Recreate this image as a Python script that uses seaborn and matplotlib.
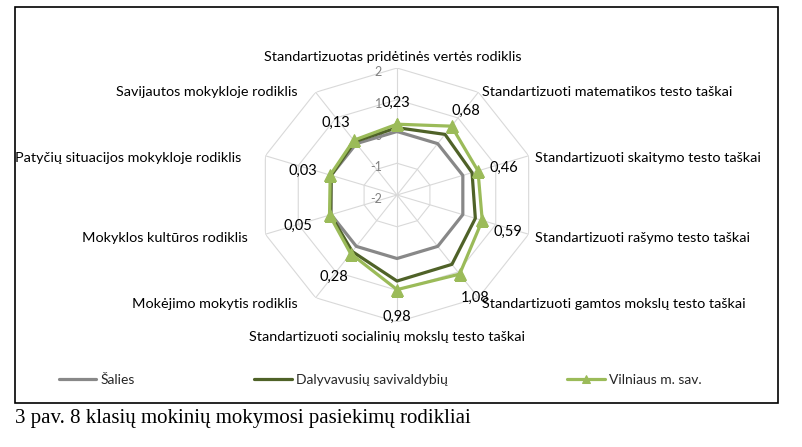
import numpy as np
import pandas as pd
import seaborn as sns
import matplotlib.pyplot as plt
from matplotlib.patches import Rectangle

# chart values
categories = [
    "Standartizuotas pridėtinės vertės rodiklis",
    "Standartizuoti matematikos testo taškai",
    "Standartizuoti skaitymo testo taškai",
    "Standartizuoti rašymo testo taškai",
    "Standartizuoti gamtos mokslų testo taškai",
    "Standartizuoti socialinių mokslų testo taškai",
    "Mokėjimo mokytis rodiklis",
    "Mokyklos kultūros rodiklis",
    "Patyčių situacijos mokykloje rodiklis",
    "Savijautos mokykloje rodiklis",
]
salies = [0, 0, 0, 0, 0, 0, 0, 0, 0, 0]
dalyvavusiu = [0.12, 0.36, 0.28, 0.38, 0.70, 0.71, 0.20, 0.02, 0.00, 0.08]
vilniaus = [0.23, 0.68, 0.46, 0.59, 1.08, 0.98, 0.28, 0.05, 0.03, 0.13]
series_names = ["Šalies", "Dalyvavusių savivaldybių", "Vilniaus m. sav."]
r_ticks = [2, 1, 0, -1, -2]
caption = "3 pav. 8 klasių mokinių mokymosi pasiekimų rodikliai"

sns.set_theme(style="white")
plt.rcParams['font.family'] = ['Lato', 'DejaVu Sans']

W, H = 803, 447
fig = plt.figure(figsize=(W / 100, H / 100), dpi=100)

# centre (397,195) px, radius 127 px, slightly wider than tall as in the source
cx, cy, rad, xstretch = 397, 195, 127, 1.09
ax = fig.add_axes([(cx - rad * xstretch) / W, (H - cy - rad) / H,
                   2 * rad * xstretch / W, 2 * rad / H], projection='polar')
ax.set_theta_zero_location('N')
ax.set_theta_direction(-1)

n = len(categories)
theta = np.linspace(0, 2 * np.pi, n, endpoint=False)
theta_c = np.append(theta, theta[0])

# decagon grid
grid_col = '#d9d9d9'
for lev in [-1, 0, 1, 2]:
    ax.plot(theta_c, [lev] * (n + 1), color=grid_col, lw=0.8, zorder=1)
for t in theta:
    ax.plot([t, t], [-2, 2], color=grid_col, lw=0.8, zorder=1)

# radial tick labels left of the top spoke
for v in r_ticks:
    ax.annotate(str(v), xy=(0, v), xytext=(-15, -4), textcoords='offset pixels',
                ha='right', va='center', fontsize=9, color='#808080', zorder=1.5)

styles = [
    (salies, '#888888', None, 2),
    (dalyvavusiu, '#4f6228', None, 3),
    (vilniaus, '#9bbb59', '^', 4),
]
for name, (vals, col, mk, z) in zip(series_names, styles):
    df = pd.DataFrame({'theta': theta_c, 'r': list(vals) + [vals[0]]})
    sns.lineplot(data=df, x='theta', y='r', ax=ax, sort=False, estimator=None,
                 color=col, lw=2.3, marker=mk, markersize=8 if mk else 0,
                 markeredgecolor=col, label=name, zorder=z)

ax.set_ylim(-2, 2)
ax.set_xticks([])
ax.set_yticks([])
ax.set_xlabel('')
ax.set_ylabel('')
ax.grid(False)
ax.spines['polar'].set_visible(False)
ax.set_facecolor('none')
ax.set_aspect('auto')

# category labels around the outer ring (pixel offsets from outer vertex)
label_pos = [((-4, 11), 'center'), ((4, 0), 'left'), ((6, -2), 'left'),
             ((6, -3.5), 'left'), ((4, -6), 'left'), ((-10, -15), 'center'),
             ((-18, -6), 'right'), ((-18, -3.5), 'right'), ((-24, -2), 'right'),
             ((-18, 0), 'right')]
for t, lab, (off, ha) in zip(theta, categories, label_pos):
    ax.annotate(lab, xy=(t, 2), xytext=off, textcoords='offset pixels',
                ha=ha, va='center', fontsize=10.4, color='black',
                annotation_clip=False)

# value labels of the Vilnius series
val_off = [(-1.5, 21.5), (14.5, 15.5), (25.5, 3), (26, -11.5), (15, -24),
           (0, -27.7), (-16.6, -23.7), (-31.5, -11), (-27.6, 4.4), (-18, 17)]
for t, v, off in zip(theta, vilniaus, val_off):
    ax.annotate(f"{v:.2f}".replace('.', ','), xy=(t, v), xytext=off,
                textcoords='offset pixels', ha='center', va='center',
                fontsize=10.5, color='black', annotation_clip=False, zorder=6)

handles, labels = ax.get_legend_handles_labels()
if ax.get_legend() is not None:
    ax.get_legend().remove()
fig.legend(handles, labels, loc='center', bbox_to_anchor=(380 / W, 1 - 380 / H),
           ncol=3, frameon=False, fontsize=10, handlelength=2.7,
           handletextpad=0.3, columnspacing=8.6, markerscale=0.8)

# chart border
fig.patches.append(Rectangle((15 / W, 1 - 403 / H), (778 - 15) / W, (403 - 7) / H,
                             transform=fig.transFigure, fill=False,
                             edgecolor='black', lw=1.2))

fig.text(15 / W, 1 - 418 / H, caption, family='Liberation Serif', fontsize=15,
         ha='left', va='center', color='black')

fig.savefig('out.png', dpi=100, facecolor='white')
